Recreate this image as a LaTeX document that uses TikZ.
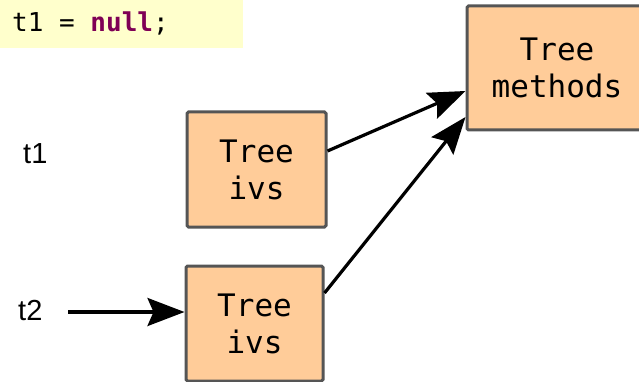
\documentclass[tikz,border=0pt]{standalone}
\usepackage{fontspec}
\setmainfont{Liberation Sans}
\setmonofont{DejaVu Sans Mono}
\usetikzlibrary{arrows.meta}
\definecolor{codebg}{HTML}{FFFFCC}
\definecolor{kw}{HTML}{7F0055}
\definecolor{boxfill}{HTML}{FFCC99}
\definecolor{boxline}{HTML}{555555}
\tikzset{
  objbox/.style={draw=boxline, fill=boxfill, line width=3pt, rounded corners=1.5pt,
    inner sep=0pt, align=center, font=\fontsize{31}{37}\selectfont\ttfamily},
  lbl/.style={anchor=base west, inner sep=0pt, font=\fontsize{29}{32}\selectfont},
  arr/.style={line width=3.2pt, -{Stealth[length=37pt,width=28pt,inset=6pt]}},
}
\begin{document}
\begin{tikzpicture}[x=1pt,y=-1pt]
\useasboundingbox (0,0) rectangle (639,382);
\clip (0,0) rectangle (639,382);
\node[fill=codebg, minimum width=243pt, minimum height=48pt, anchor=north west, inner sep=0pt] (code) at (0,0) {};
\node[anchor=base west, inner sep=0pt, font=\fontsize{26}{30}\selectfont\ttfamily] (codetext) at (12,32) {t1 = \textbf{\color{kw}null};};
\node[objbox, minimum width=139pt, minimum height=115pt] (b1) at (256.5,169.5) {Tree\\ivs};
\node[objbox, minimum width=137pt, minimum height=115pt] (b2) at (254.5,323.5) {Tree\\ivs};
\node[objbox, minimum width=180pt, minimum height=124pt] (m) at (557,68) {Tree\\methods};
\node[lbl] (t1) at (23,164) {t1};
\node[lbl] (t2) at (18,320) {t2};
\coordinate (t2s) at (68,312);
\draw[arr] (t2s) -- (t2s -| b2.west);
\draw[arr] ([yshift=18.5pt]b1.east) -- ([yshift=-23pt]m.west);
\draw[arr] ([yshift=30.5pt]b2.east) -- ([yshift=-49pt]m.west);
\end{tikzpicture}
\end{document}
